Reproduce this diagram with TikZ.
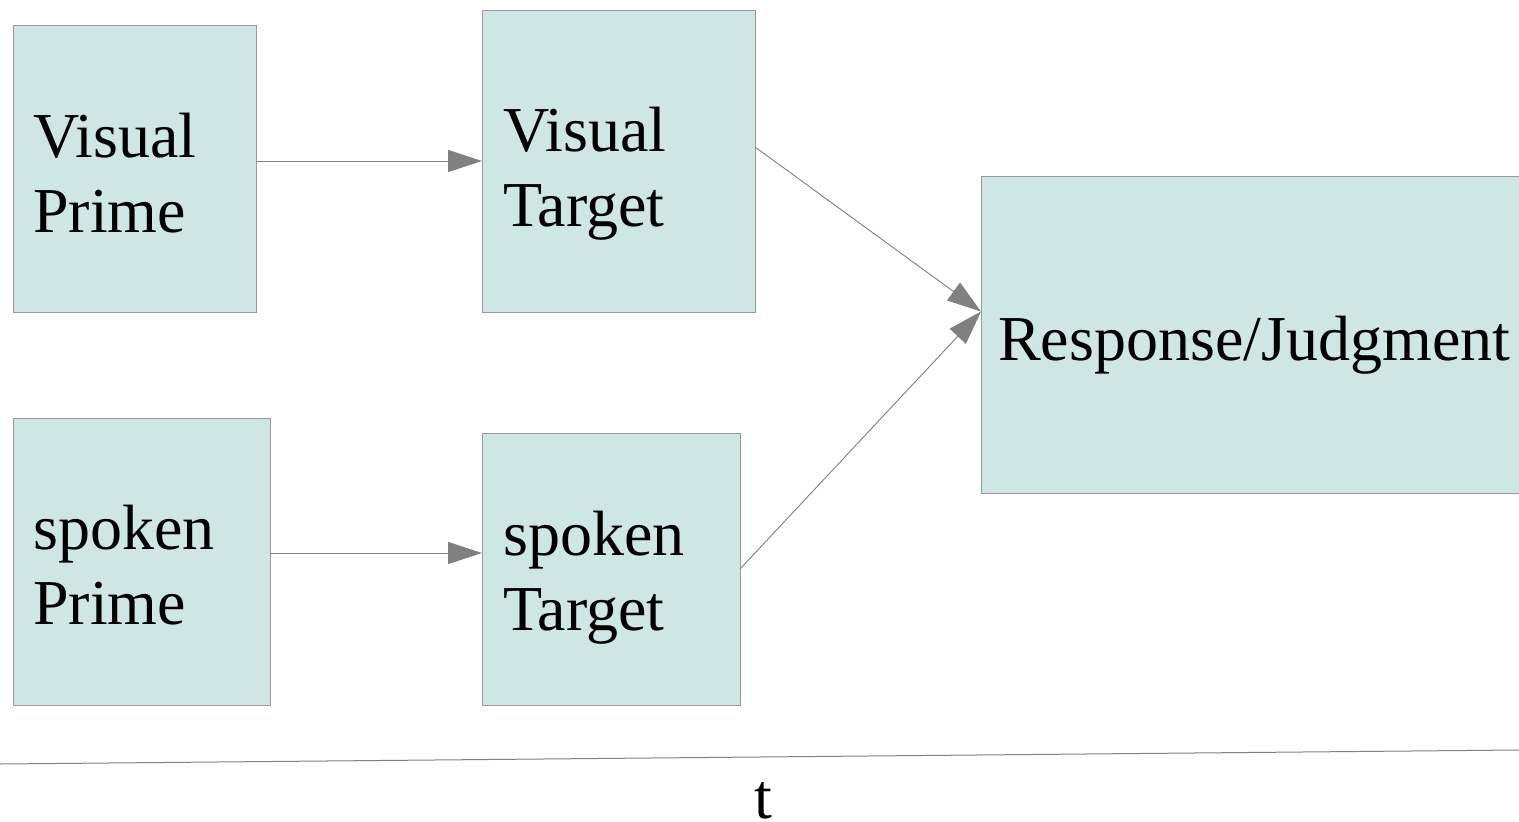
\documentclass[tikz,border=0pt]{standalone}
\usepackage{fontspec}
\setmainfont{Liberation Serif}
\usetikzlibrary{arrows.meta}
\definecolor{boxfill}{HTML}{CFE7E4}
\definecolor{boxline}{HTML}{9A9A9A}
\definecolor{arrgray}{HTML}{808080}
\begin{document}
\begin{tikzpicture}[x=1pt,y=-1pt,
  box/.style={draw=boxline, fill=boxfill, line width=1pt, rectangle, inner sep=0pt, outer sep=0pt},
  lbl/.style={anchor=base west, inner sep=0pt, font=\fontsize{64}{75}\selectfont, align=left},
  arr/.style={draw=arrgray, line width=0.9pt, -{Triangle[length=34pt,width=22pt,fill=arrgray]}}]
\useasboundingbox (0,0) rectangle (1519,822);
\fill[white] (0,0) rectangle (1519,822);
\clip (0,0) rectangle (1519,822);
% boxes
\node[box, minimum width=243pt, minimum height=287pt] (vp) at (134.5,168.5) {};
\node[box, minimum width=273pt, minimum height=302pt] (vt) at (618.5,161) {};
\node[box, minimum width=257pt, minimum height=287pt] (sp) at (141.5,561.5) {};
\node[box, minimum width=258pt, minimum height=272pt] (st) at (611,569) {};
\node[box, minimum width=549pt, minimum height=317pt] (rj) at (1255.5,334.5) {};
% labels
\node[lbl] (vpt1) at (33,157) {Visual};
\node[lbl] (vpt2) at (33,232) {Prime};
\node[lbl] (vtt1) at (503,151) {Visual};
\node[lbl] (vtt2) at (503,226) {Target};
\node[lbl] (spt1) at (33,549) {spoken};
\node[lbl] (spt2) at (33,624) {Prime};
\node[lbl] (stt1) at (503,555) {spoken};
\node[lbl] (stt2) at (503,630) {Target};
\node[lbl] (rjt) at (998,360) {Response/Judgment};
% connectors
\draw[arr] (vp.east |- vt.west) -- (vt.west);
\coordinate (spo) at ([yshift=8.5pt]sp.east);
\draw[arr] (spo) -- (st.west |- spo);
\coordinate (rjin) at ([yshift=23pt]rj.west);
\draw[arr] ([yshift=14pt]vt.east) -- (rjin);
\draw[arr] (st.east) -- (rjin);
% time axis
\coordinate (ta) at (0,764);
\coordinate (tb) at (1519,750);
\draw[draw=arrgray, line width=1pt] (ta) -- (tb);
\node[lbl, anchor=base] (tl) at (763,818) {t};
\end{tikzpicture}
\end{document}
